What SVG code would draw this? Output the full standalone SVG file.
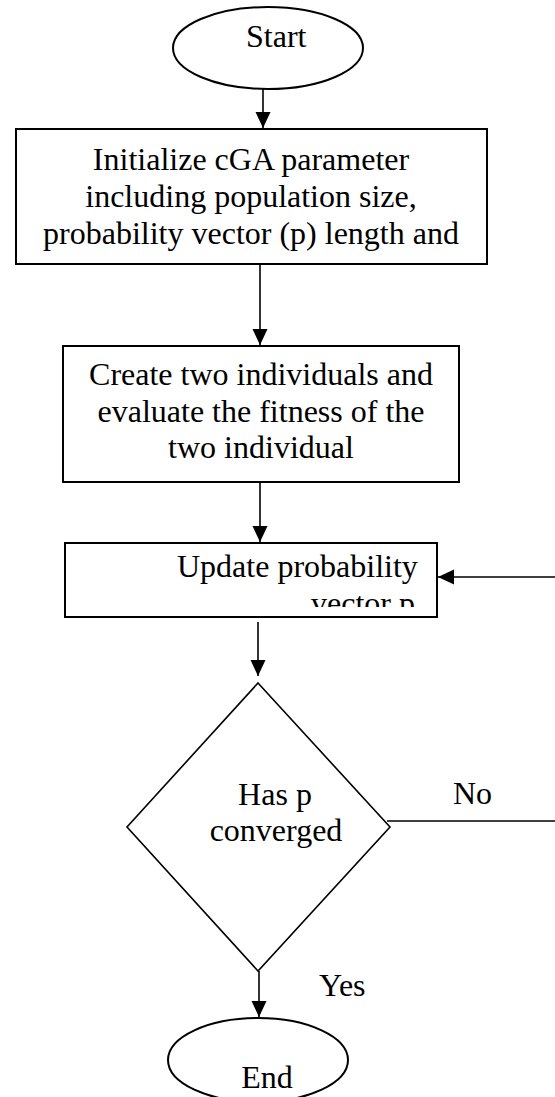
<svg xmlns="http://www.w3.org/2000/svg" width="555" height="1097" viewBox="0 0 555 1097">
<style>
.shape{fill:#fff;stroke:#000;stroke-width:2}
.dia{fill:#fff;stroke:#000;stroke-width:1.6}
.t{font-family:"Liberation Serif","Times New Roman",serif;font-size:32px;fill:#000}
.c{text-anchor:middle}
.ln{fill:none;stroke:#000;stroke-width:1.6}
</style>
<defs>
<marker id="ah" markerUnits="userSpaceOnUse" markerWidth="16" markerHeight="16" viewBox="0 0 16 16" refX="16" refY="8" orient="auto">
<path d="M0,0.5 L16,8 L0,15.5 Z" fill="#000"/>
</marker>
<clipPath id="upclip"><rect x="65" y="543" width="372" height="64"/></clipPath>
</defs>
<rect width="555" height="1097" fill="#fff"/>
<g id="connectors">
<line class="ln" x1="263" y1="89" x2="263" y2="128" marker-end="url(#ah)"/>
<line class="ln" x1="260" y1="264" x2="260" y2="345" marker-end="url(#ah)"/>
<line class="ln" x1="260" y1="482" x2="260" y2="542" marker-end="url(#ah)"/>
<line class="ln" x1="258" y1="622" x2="258" y2="676" marker-end="url(#ah)"/>
<line class="ln" x1="259" y1="971" x2="259" y2="1017" marker-end="url(#ah)"/>
<path class="ln" d="M387,821 H562 V577 H438" marker-end="url(#ah)"/>
<text class="t" x="453" y="804">No</text>
<text class="t" x="319" y="996">Yes</text>
</g>
<g id="start">
<ellipse class="shape" cx="268" cy="48" rx="95" ry="41"/>
<text class="t" x="246" y="47">Start</text>
</g>
<g id="init">
<rect class="shape" x="16" y="129" width="471" height="135"/>
<text class="t c" x="251" y="170">Initialize cGA parameter</text>
<text class="t c" x="251" y="207">including population size,</text>
<text class="t c" x="251" y="244">probability vector (p) length and</text>
</g>
<g id="create">
<rect class="shape" x="63" y="346" width="396" height="136"/>
<text class="t c" x="261" y="385">Create two individuals and</text>
<text class="t c" x="261" y="422">evaluate the fitness of the</text>
<text class="t c" x="261" y="458">two individual</text>
</g>
<g id="update">
<rect class="shape" x="65" y="543" width="372" height="74"/>
<g clip-path="url(#upclip)">
<text class="t" x="177" y="577">Update probability</text>
<text class="t" x="311" y="614">vector p</text>
</g>
</g>
<g id="decision">
<polygon class="dia" points="258,683 390,827 258,971 127,827"/>
<text class="t c" x="275" y="805">Has p</text>
<text class="t c" x="276" y="841">converged</text>
</g>
<g id="end">
<ellipse class="shape" cx="258" cy="1060" rx="90" ry="42"/>
<text class="t c" x="267" y="1088">End</text>
</g>
</svg>
